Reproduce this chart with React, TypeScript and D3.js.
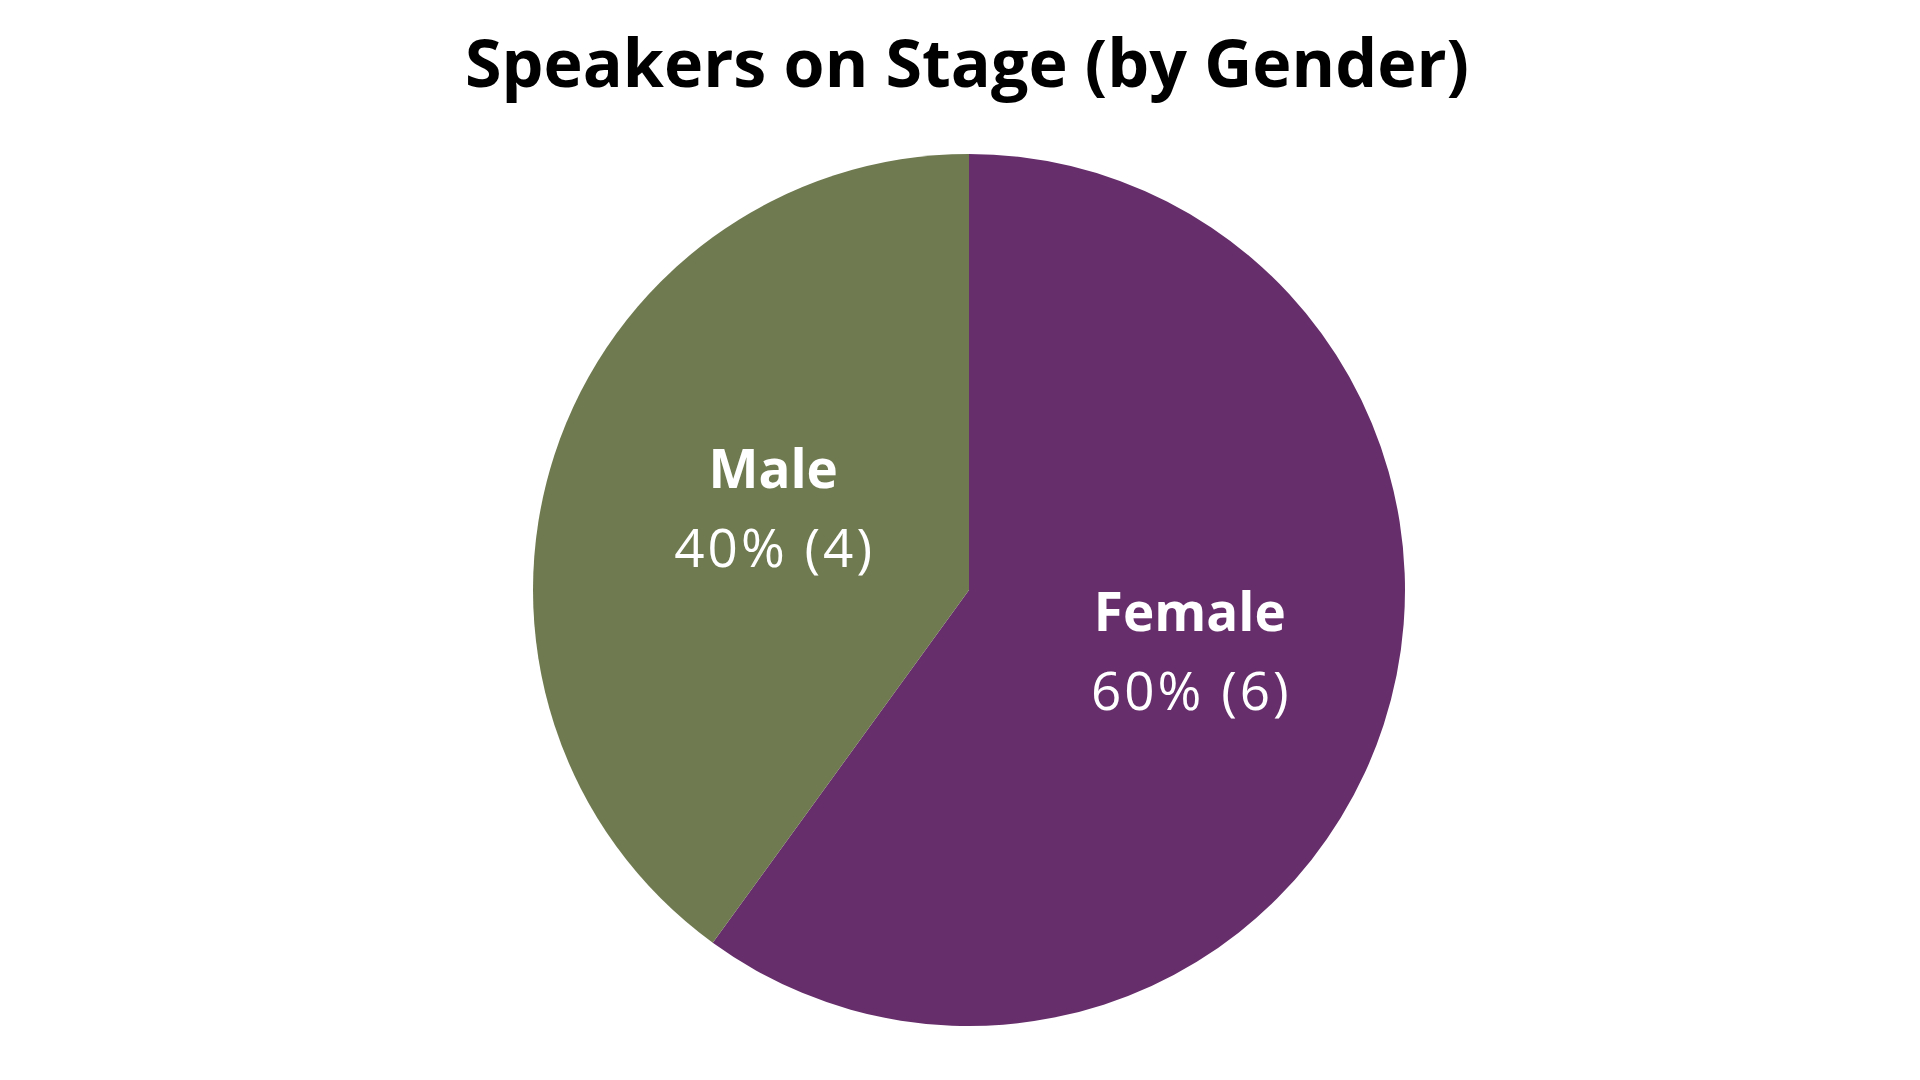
import React from "react";
import * as d3 from "d3";

const categories = ["Female", "Male"];
const values = [6, 4];
const colors = ["#662E6B", "#6F7A50"];
const title = "Speakers on Stage (by Gender)";

const W = 1920;
const H = 1080;
const CX = 969;
const CY = 590;
const R = 436;

// small layout nudges for label blocks (dx, dy)
const labelNudge: Record<string, [number, number]> = {
  Female: [4, -3],
  Male: [21, -6],
};

export default function App() {
  const total = d3.sum(values);
  const data = categories.map((c, i) => ({ cat: c, value: values[i], color: colors[i] }));
  const pie = d3
    .pie<any>()
    .value((d) => d.value)
    .sort(null)
    .startAngle(0)
    .endAngle(2 * Math.PI);
  const arcs = pie(data);
  const arc = d3.arc<any>().innerRadius(0).outerRadius(R);
  const labelArc = d3.arc<any>().innerRadius(228).outerRadius(228);

  return (
    <svg
      width={W}
      height={H}
      style={{ position: "absolute", left: 0, top: 0, background: "#fff" }}
    >
      <text
        x={967}
        y={87}
        textAnchor="middle"
        fontFamily="'Open Sans', sans-serif"
        fontWeight={700}
        fontSize={67}
        fill="#000"
        textLength={1004}
        lengthAdjust="spacingAndGlyphs"
      >
        {title}
      </text>
      <g transform={`translate(${CX},${CY})`}>
        {arcs.map((a, i) => (
          <path key={i} d={arc(a) as string} fill={a.data.color} />
        ))}
        {arcs.map((a, i) => {
          const [x, y] = labelArc.centroid(a);
          const [dx, dy] = labelNudge[a.data.cat] || [0, 0];
          const pct = Math.round((a.data.value / total) * 100);
          return (
            <g key={"l" + i} transform={`translate(${x + dx},${y + dy})`}>
              <text
                y={-26}
                textAnchor="middle"
                fontFamily="'Open Sans', sans-serif"
                fontWeight={700}
                fontSize={53}
                fill="#fff"
              >
                {a.data.cat}
              </text>
              <text
                y={53}
                x={1.5}
                textAnchor="middle"
                fontFamily="'Open Sans', sans-serif"
                fontWeight={400}
                fontSize={53}
                letterSpacing={3}
                fill="#fff"
              >
                {`${pct}% (${a.data.value})`}
              </text>
            </g>
          );
        })}
      </g>
    </svg>
  );
}
